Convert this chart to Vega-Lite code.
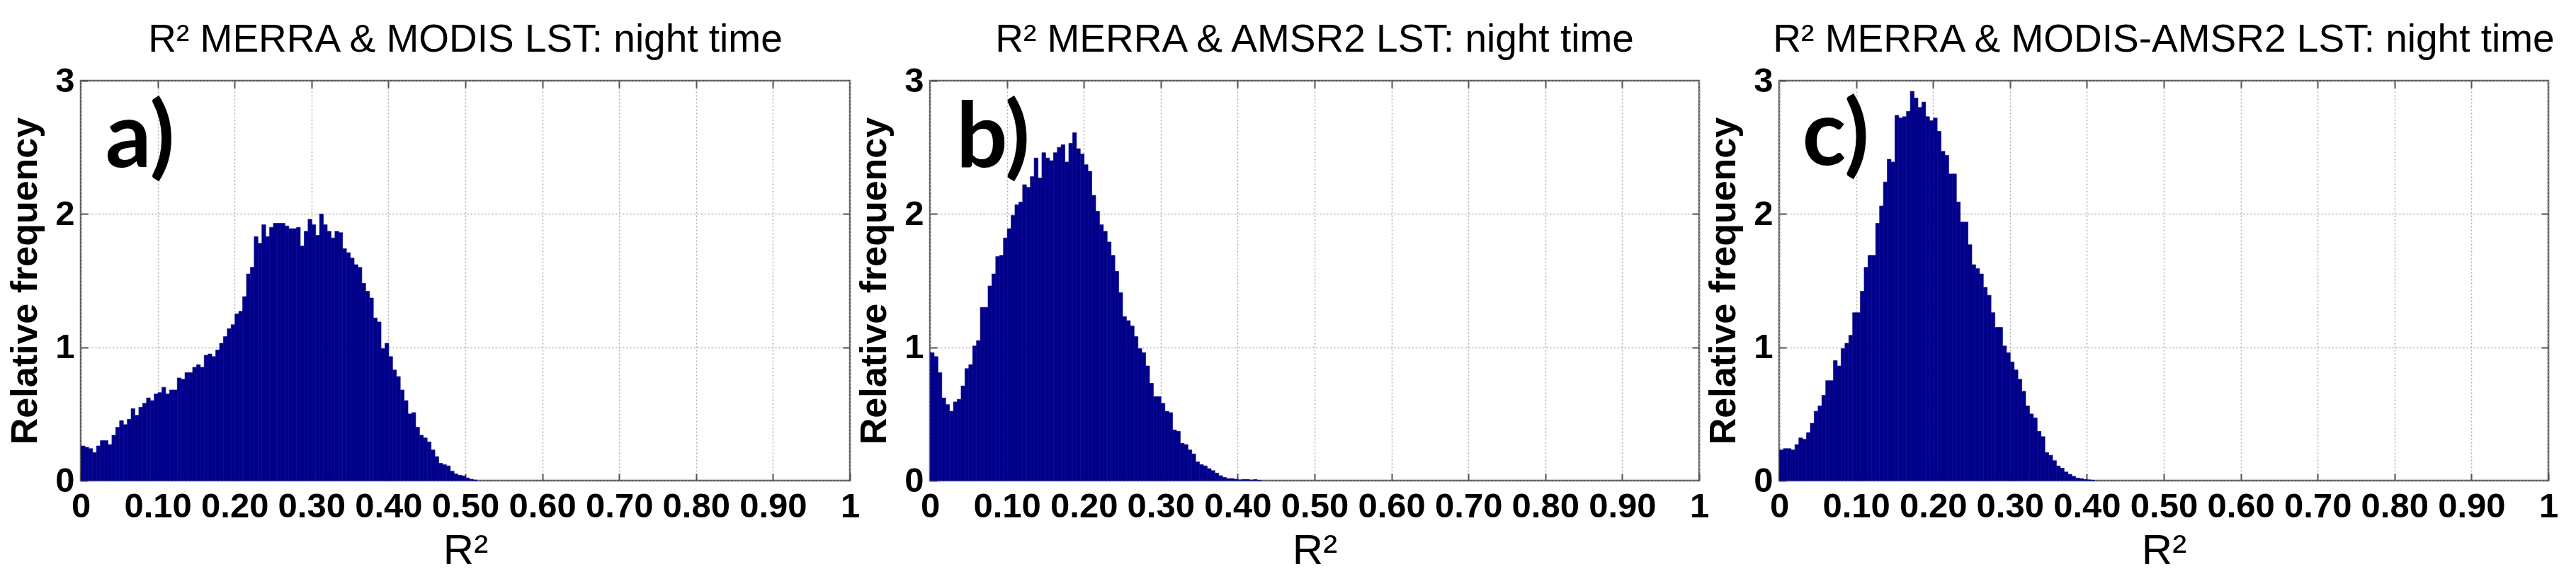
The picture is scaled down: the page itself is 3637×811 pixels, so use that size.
{
  "$schema": "https://vega.github.io/schema/vega-lite/v6.json",
  "padding": {"left": 8, "top": 27, "right": 5, "bottom": 5},
  "background": "white",
  "spacing": 113,
  "bounds": "flush",
  "config": {
    "view": {"stroke": "#5a5a5a", "strokeWidth": 2.5},
    "font": "Liberation Sans",
    "axis": {
      "domain": false,
      "grid": true,
      "gridColor": "#adadad",
      "gridDash": [2, 3],
      "gridWidth": 1.5,
      "ticks": true,
      "tickSize": -10,
      "tickColor": "#555555",
      "tickWidth": 2,
      "labelFlush": false,
      "labelFont": "Liberation Sans",
      "labelFontWeight": "bold",
      "labelFontSize": 49,
      "labelColor": "black",
      "titleColor": "black",
      "titleFont": "Liberation Sans"
    }
  },
  "datasets": {
    "a": [
      {"x0":0.000,"x1":0.005,"f":0.26},{"x0":0.005,"x1":0.010,"f":0.25},{"x0":0.010,"x1":0.015,"f":0.24},{"x0":0.015,"x1":0.020,"f":0.21},{"x0":0.020,"x1":0.025,"f":0.26},
      {"x0":0.025,"x1":0.030,"f":0.30},{"x0":0.030,"x1":0.035,"f":0.30},{"x0":0.035,"x1":0.040,"f":0.27},{"x0":0.040,"x1":0.045,"f":0.34},{"x0":0.045,"x1":0.050,"f":0.40},
      {"x0":0.050,"x1":0.055,"f":0.45},{"x0":0.055,"x1":0.060,"f":0.42},{"x0":0.060,"x1":0.065,"f":0.46},{"x0":0.065,"x1":0.070,"f":0.54},{"x0":0.070,"x1":0.075,"f":0.49},
      {"x0":0.075,"x1":0.080,"f":0.55},{"x0":0.080,"x1":0.085,"f":0.58},{"x0":0.085,"x1":0.090,"f":0.62},{"x0":0.090,"x1":0.095,"f":0.60},{"x0":0.095,"x1":0.100,"f":0.65},
      {"x0":0.100,"x1":0.105,"f":0.66},{"x0":0.105,"x1":0.110,"f":0.70},{"x0":0.110,"x1":0.115,"f":0.65},{"x0":0.115,"x1":0.120,"f":0.68},{"x0":0.120,"x1":0.125,"f":0.68},
      {"x0":0.125,"x1":0.130,"f":0.77},{"x0":0.130,"x1":0.135,"f":0.76},{"x0":0.135,"x1":0.140,"f":0.81},{"x0":0.140,"x1":0.145,"f":0.81},{"x0":0.145,"x1":0.150,"f":0.85},
      {"x0":0.150,"x1":0.155,"f":0.87},{"x0":0.155,"x1":0.160,"f":0.85},{"x0":0.160,"x1":0.165,"f":0.94},{"x0":0.165,"x1":0.170,"f":0.95},{"x0":0.170,"x1":0.175,"f":0.93},
      {"x0":0.175,"x1":0.180,"f":0.98},{"x0":0.180,"x1":0.185,"f":1.03},{"x0":0.185,"x1":0.190,"f":1.08},{"x0":0.190,"x1":0.195,"f":1.14},{"x0":0.195,"x1":0.200,"f":1.17},
      {"x0":0.200,"x1":0.205,"f":1.25},{"x0":0.205,"x1":0.210,"f":1.27},{"x0":0.210,"x1":0.215,"f":1.38},{"x0":0.215,"x1":0.220,"f":1.55},{"x0":0.220,"x1":0.225,"f":1.60},
      {"x0":0.225,"x1":0.230,"f":1.83},{"x0":0.230,"x1":0.235,"f":1.78},{"x0":0.235,"x1":0.240,"f":1.92},{"x0":0.240,"x1":0.245,"f":1.83},{"x0":0.245,"x1":0.250,"f":1.90},
      {"x0":0.250,"x1":0.255,"f":1.93},{"x0":0.255,"x1":0.260,"f":1.93},{"x0":0.260,"x1":0.265,"f":1.93},{"x0":0.265,"x1":0.270,"f":1.91},{"x0":0.270,"x1":0.275,"f":1.89},
      {"x0":0.275,"x1":0.280,"f":1.89},{"x0":0.280,"x1":0.285,"f":1.90},{"x0":0.285,"x1":0.290,"f":1.76},{"x0":0.290,"x1":0.295,"f":1.87},{"x0":0.295,"x1":0.300,"f":1.96},
      {"x0":0.300,"x1":0.305,"f":1.92},{"x0":0.305,"x1":0.310,"f":1.84},{"x0":0.310,"x1":0.315,"f":2.00},{"x0":0.315,"x1":0.320,"f":1.92},{"x0":0.320,"x1":0.325,"f":1.87},
      {"x0":0.325,"x1":0.330,"f":1.82},{"x0":0.330,"x1":0.335,"f":1.87},{"x0":0.335,"x1":0.340,"f":1.86},{"x0":0.340,"x1":0.345,"f":1.74},{"x0":0.345,"x1":0.350,"f":1.71},
      {"x0":0.350,"x1":0.355,"f":1.67},{"x0":0.355,"x1":0.360,"f":1.62},{"x0":0.360,"x1":0.365,"f":1.60},{"x0":0.365,"x1":0.370,"f":1.48},{"x0":0.370,"x1":0.375,"f":1.42},
      {"x0":0.375,"x1":0.380,"f":1.37},{"x0":0.380,"x1":0.385,"f":1.22},{"x0":0.385,"x1":0.390,"f":1.19},{"x0":0.390,"x1":0.395,"f":0.99},{"x0":0.395,"x1":0.400,"f":1.03},
      {"x0":0.400,"x1":0.405,"f":0.93},{"x0":0.405,"x1":0.410,"f":0.83},{"x0":0.410,"x1":0.415,"f":0.78},{"x0":0.415,"x1":0.420,"f":0.68},{"x0":0.420,"x1":0.425,"f":0.60},
      {"x0":0.425,"x1":0.430,"f":0.50},{"x0":0.430,"x1":0.435,"f":0.51},{"x0":0.435,"x1":0.440,"f":0.40},{"x0":0.440,"x1":0.445,"f":0.34},{"x0":0.445,"x1":0.450,"f":0.32},
      {"x0":0.450,"x1":0.455,"f":0.29},{"x0":0.455,"x1":0.460,"f":0.23},{"x0":0.460,"x1":0.465,"f":0.18},{"x0":0.465,"x1":0.470,"f":0.13},{"x0":0.470,"x1":0.475,"f":0.12},
      {"x0":0.475,"x1":0.480,"f":0.11},{"x0":0.480,"x1":0.485,"f":0.07},{"x0":0.485,"x1":0.490,"f":0.05},{"x0":0.490,"x1":0.495,"f":0.04},{"x0":0.495,"x1":0.500,"f":0.035},
      {"x0":0.500,"x1":0.505,"f":0.02},{"x0":0.505,"x1":0.510,"f":0.01},{"x0":0.510,"x1":0.515,"f":0.005}
    ],
    "b": [
      {"x0":0.000,"x1":0.005,"f":0.96},{"x0":0.005,"x1":0.010,"f":0.93},{"x0":0.010,"x1":0.015,"f":0.81},{"x0":0.015,"x1":0.020,"f":0.62},{"x0":0.020,"x1":0.025,"f":0.57},
      {"x0":0.025,"x1":0.030,"f":0.52},{"x0":0.030,"x1":0.035,"f":0.59},{"x0":0.035,"x1":0.040,"f":0.61},{"x0":0.040,"x1":0.045,"f":0.71},{"x0":0.045,"x1":0.050,"f":0.84},
      {"x0":0.050,"x1":0.055,"f":0.87},{"x0":0.055,"x1":0.060,"f":1.01},{"x0":0.060,"x1":0.065,"f":1.05},{"x0":0.065,"x1":0.070,"f":1.30},{"x0":0.070,"x1":0.075,"f":1.30},
      {"x0":0.075,"x1":0.080,"f":1.46},{"x0":0.080,"x1":0.085,"f":1.55},{"x0":0.085,"x1":0.090,"f":1.68},{"x0":0.090,"x1":0.095,"f":1.69},{"x0":0.095,"x1":0.100,"f":1.82},
      {"x0":0.100,"x1":0.105,"f":1.89},{"x0":0.105,"x1":0.110,"f":1.99},{"x0":0.110,"x1":0.115,"f":2.07},{"x0":0.115,"x1":0.120,"f":2.09},{"x0":0.120,"x1":0.125,"f":2.22},
      {"x0":0.125,"x1":0.130,"f":2.20},{"x0":0.130,"x1":0.135,"f":2.28},{"x0":0.135,"x1":0.140,"f":2.42},{"x0":0.140,"x1":0.145,"f":2.27},{"x0":0.145,"x1":0.150,"f":2.46},
      {"x0":0.150,"x1":0.155,"f":2.42},{"x0":0.155,"x1":0.160,"f":2.40},{"x0":0.160,"x1":0.165,"f":2.46},{"x0":0.165,"x1":0.170,"f":2.50},{"x0":0.170,"x1":0.175,"f":2.52},
      {"x0":0.175,"x1":0.180,"f":2.39},{"x0":0.180,"x1":0.185,"f":2.53},{"x0":0.185,"x1":0.190,"f":2.61},{"x0":0.190,"x1":0.195,"f":2.49},{"x0":0.195,"x1":0.200,"f":2.45},
      {"x0":0.200,"x1":0.205,"f":2.37},{"x0":0.205,"x1":0.210,"f":2.32},{"x0":0.210,"x1":0.215,"f":2.14},{"x0":0.215,"x1":0.220,"f":2.02},{"x0":0.220,"x1":0.225,"f":1.92},
      {"x0":0.225,"x1":0.230,"f":1.87},{"x0":0.230,"x1":0.235,"f":1.79},{"x0":0.235,"x1":0.240,"f":1.69},{"x0":0.240,"x1":0.245,"f":1.57},{"x0":0.245,"x1":0.250,"f":1.41},
      {"x0":0.250,"x1":0.255,"f":1.23},{"x0":0.255,"x1":0.260,"f":1.20},{"x0":0.260,"x1":0.265,"f":1.16},{"x0":0.265,"x1":0.270,"f":1.08},{"x0":0.270,"x1":0.275,"f":0.99},
      {"x0":0.275,"x1":0.280,"f":0.96},{"x0":0.280,"x1":0.285,"f":0.86},{"x0":0.285,"x1":0.290,"f":0.73},{"x0":0.290,"x1":0.295,"f":0.63},{"x0":0.295,"x1":0.300,"f":0.63},
      {"x0":0.300,"x1":0.305,"f":0.58},{"x0":0.305,"x1":0.310,"f":0.52},{"x0":0.310,"x1":0.315,"f":0.51},{"x0":0.315,"x1":0.320,"f":0.38},{"x0":0.320,"x1":0.325,"f":0.37},
      {"x0":0.325,"x1":0.330,"f":0.28},{"x0":0.330,"x1":0.335,"f":0.27},{"x0":0.335,"x1":0.340,"f":0.23},{"x0":0.340,"x1":0.345,"f":0.20},{"x0":0.345,"x1":0.350,"f":0.14},
      {"x0":0.350,"x1":0.355,"f":0.12},{"x0":0.355,"x1":0.360,"f":0.11},{"x0":0.360,"x1":0.365,"f":0.09},{"x0":0.365,"x1":0.370,"f":0.075},{"x0":0.370,"x1":0.375,"f":0.056},
      {"x0":0.375,"x1":0.380,"f":0.037},{"x0":0.380,"x1":0.385,"f":0.024},{"x0":0.385,"x1":0.390,"f":0.015},{"x0":0.390,"x1":0.395,"f":0.015},{"x0":0.395,"x1":0.400,"f":0.01},
      {"x0":0.400,"x1":0.405,"f":0.006},{"x0":0.405,"x1":0.410,"f":0.009},{"x0":0.410,"x1":0.415,"f":0.009},{"x0":0.415,"x1":0.420,"f":0.005},{"x0":0.420,"x1":0.425,"f":0.008},
      {"x0":0.425,"x1":0.430,"f":0.002}
    ],
    "c": [
      {"x0":0.000,"x1":0.005,"f":0.23},{"x0":0.005,"x1":0.010,"f":0.24},{"x0":0.010,"x1":0.015,"f":0.24},{"x0":0.015,"x1":0.020,"f":0.23},{"x0":0.020,"x1":0.025,"f":0.27},
      {"x0":0.025,"x1":0.030,"f":0.32},{"x0":0.030,"x1":0.035,"f":0.31},{"x0":0.035,"x1":0.040,"f":0.36},{"x0":0.040,"x1":0.045,"f":0.43},{"x0":0.045,"x1":0.050,"f":0.52},
      {"x0":0.050,"x1":0.055,"f":0.56},{"x0":0.055,"x1":0.060,"f":0.64},{"x0":0.060,"x1":0.065,"f":0.75},{"x0":0.065,"x1":0.070,"f":0.75},{"x0":0.070,"x1":0.075,"f":0.90},
      {"x0":0.075,"x1":0.080,"f":0.86},{"x0":0.080,"x1":0.085,"f":0.99},{"x0":0.085,"x1":0.090,"f":1.03},{"x0":0.090,"x1":0.095,"f":1.09},{"x0":0.095,"x1":0.100,"f":1.26},
      {"x0":0.100,"x1":0.105,"f":1.26},{"x0":0.105,"x1":0.110,"f":1.42},{"x0":0.110,"x1":0.115,"f":1.60},{"x0":0.115,"x1":0.120,"f":1.69},{"x0":0.120,"x1":0.125,"f":1.69},
      {"x0":0.125,"x1":0.130,"f":1.93},{"x0":0.130,"x1":0.135,"f":2.06},{"x0":0.135,"x1":0.140,"f":2.24},{"x0":0.140,"x1":0.145,"f":2.41},{"x0":0.145,"x1":0.150,"f":2.39},
      {"x0":0.150,"x1":0.155,"f":2.74},{"x0":0.155,"x1":0.160,"f":2.72},{"x0":0.160,"x1":0.165,"f":2.73},{"x0":0.165,"x1":0.170,"f":2.77},{"x0":0.170,"x1":0.175,"f":2.92},
      {"x0":0.175,"x1":0.180,"f":2.87},{"x0":0.180,"x1":0.185,"f":2.80},{"x0":0.185,"x1":0.190,"f":2.84},{"x0":0.190,"x1":0.195,"f":2.73},{"x0":0.195,"x1":0.200,"f":2.70},
      {"x0":0.200,"x1":0.205,"f":2.72},{"x0":0.205,"x1":0.210,"f":2.62},{"x0":0.210,"x1":0.215,"f":2.47},{"x0":0.215,"x1":0.220,"f":2.44},{"x0":0.220,"x1":0.225,"f":2.30},
      {"x0":0.225,"x1":0.230,"f":2.30},{"x0":0.230,"x1":0.235,"f":2.09},{"x0":0.235,"x1":0.240,"f":1.94},{"x0":0.240,"x1":0.245,"f":1.94},{"x0":0.245,"x1":0.250,"f":1.77},
      {"x0":0.250,"x1":0.255,"f":1.62},{"x0":0.255,"x1":0.260,"f":1.59},{"x0":0.260,"x1":0.265,"f":1.55},{"x0":0.265,"x1":0.270,"f":1.45},{"x0":0.270,"x1":0.275,"f":1.39},
      {"x0":0.275,"x1":0.280,"f":1.26},{"x0":0.280,"x1":0.285,"f":1.15},{"x0":0.285,"x1":0.290,"f":1.15},{"x0":0.290,"x1":0.295,"f":1.01},{"x0":0.295,"x1":0.300,"f":0.96},
      {"x0":0.300,"x1":0.305,"f":0.89},{"x0":0.305,"x1":0.310,"f":0.83},{"x0":0.310,"x1":0.315,"f":0.76},{"x0":0.315,"x1":0.320,"f":0.67},{"x0":0.320,"x1":0.325,"f":0.56},
      {"x0":0.325,"x1":0.330,"f":0.50},{"x0":0.330,"x1":0.335,"f":0.47},{"x0":0.335,"x1":0.340,"f":0.37},{"x0":0.340,"x1":0.345,"f":0.33},{"x0":0.345,"x1":0.350,"f":0.21},
      {"x0":0.350,"x1":0.355,"f":0.19},{"x0":0.355,"x1":0.360,"f":0.15},{"x0":0.360,"x1":0.365,"f":0.11},{"x0":0.365,"x1":0.370,"f":0.093},{"x0":0.370,"x1":0.375,"f":0.065},
      {"x0":0.375,"x1":0.380,"f":0.047},{"x0":0.380,"x1":0.385,"f":0.032},{"x0":0.385,"x1":0.390,"f":0.019},{"x0":0.390,"x1":0.395,"f":0.015},{"x0":0.395,"x1":0.400,"f":0.009},
      {"x0":0.400,"x1":0.405,"f":0.006},{"x0":0.405,"x1":0.410,"f":0.003}
    ]
  },
  "hconcat": [
    {
      "width": 1086, "height": 565,
      "title": {"text": "R² MERRA & MODIS LST: night time", "fontSize": 55, "fontWeight": "normal", "font": "Liberation Sans", "frame": "group", "anchor": "middle", "baseline": "alphabetic", "offset": -38, "color": "black"},
      "layer": [
        {
          "data": {"name": "a"},
          "mark": {"type": "bar", "binSpacing": 0, "color": "#00008B", "stroke": "#00008B", "strokeWidth": 0.6},
          "encoding": {
            "x": {"field": "x0", "type": "quantitative", "bin": {"binned": true}, "scale": {"domain": [0, 1], "nice": false},
                  "axis": {"values": [0,0.1,0.2,0.3,0.4,0.5,0.6,0.7,0.8,0.9,1], "labelExpr": "datum.value == 0 || datum.value == 1 ? format(datum.value, 'd') : format(datum.value, '.2f')", "labelFontSize": 49, "labelFlush": false, "labelPadding": 22, "title": "R²", "titleFontSize": 60, "titleFontWeight": "normal", "titlePadding": 9}},
            "x2": {"field": "x1"},
            "y": {"field": "f", "type": "quantitative", "scale": {"domain": [0, 3], "nice": false},
                  "axis": {"values": [0,1,2,3], "labelFontSize": 49, "labelPadding": 19, "title": "Relative frequency", "titleFontSize": 52, "titleFontWeight": "bold", "titlePadding": 15}}
          }
        },
        {
          "data": {"values": [{"lab": "a)", "px": 0.032, "py": 2.35}]},
          "mark": {"type": "text", "font": "Lato", "fontWeight": "bold", "fontSize": 128, "align": "left", "baseline": "alphabetic", "color": "black"},
          "encoding": {
            "x": {"field": "px", "type": "quantitative", "axis": {"orient": "top", "values": [0.1,0.2,0.3,0.4,0.5,0.6,0.7,0.8,0.9], "labels": false, "grid": false, "title": null}},
            "y": {"field": "py", "type": "quantitative", "axis": {"orient": "right", "values": [1,2], "labels": false, "grid": false, "title": null}},
            "text": {"field": "lab"}
          }
        }
      ],
      "resolve": {"axis": {"x": "independent", "y": "independent"}}
    },
    {
      "width": 1086, "height": 565,
      "title": {"text": "R² MERRA & AMSR2 LST: night time", "fontSize": 55, "fontWeight": "normal", "font": "Liberation Sans", "frame": "group", "anchor": "middle", "baseline": "alphabetic", "offset": -38, "color": "black"},
      "layer": [
        {
          "data": {"name": "b"},
          "mark": {"type": "bar", "binSpacing": 0, "color": "#00008B", "stroke": "#00008B", "strokeWidth": 0.6},
          "encoding": {
            "x": {"field": "x0", "type": "quantitative", "bin": {"binned": true}, "scale": {"domain": [0, 1], "nice": false},
                  "axis": {"values": [0,0.1,0.2,0.3,0.4,0.5,0.6,0.7,0.8,0.9,1], "labelExpr": "datum.value == 0 || datum.value == 1 ? format(datum.value, 'd') : format(datum.value, '.2f')", "labelFontSize": 49, "labelFlush": false, "labelPadding": 22, "title": "R²", "titleFontSize": 60, "titleFontWeight": "normal", "titlePadding": 9}},
            "x2": {"field": "x1"},
            "y": {"field": "f", "type": "quantitative", "scale": {"domain": [0, 3], "nice": false},
                  "axis": {"values": [0,1,2,3], "labelFontSize": 49, "labelPadding": 19, "title": "Relative frequency", "titleFontSize": 52, "titleFontWeight": "bold", "titlePadding": 15}}
          }
        },
        {
          "data": {"values": [{"lab": "b)", "px": 0.034, "py": 2.35}]},
          "mark": {"type": "text", "font": "Lato", "fontWeight": "bold", "fontSize": 128, "align": "left", "baseline": "alphabetic", "color": "black"},
          "encoding": {
            "x": {"field": "px", "type": "quantitative", "axis": {"orient": "top", "values": [0.1,0.2,0.3,0.4,0.5,0.6,0.7,0.8,0.9], "labels": false, "grid": false, "title": null}},
            "y": {"field": "py", "type": "quantitative", "axis": {"orient": "right", "values": [1,2], "labels": false, "grid": false, "title": null}},
            "text": {"field": "lab"}
          }
        }
      ],
      "resolve": {"axis": {"x": "independent", "y": "independent"}}
    },
    {
      "width": 1086, "height": 565,
      "title": {"text": "R² MERRA & MODIS-AMSR2 LST: night time", "fontSize": 55, "fontWeight": "normal", "font": "Liberation Sans", "frame": "group", "anchor": "middle", "baseline": "alphabetic", "offset": -38, "color": "black"},
      "layer": [
        {
          "data": {"name": "c"},
          "mark": {"type": "bar", "binSpacing": 0, "color": "#00008B", "stroke": "#00008B", "strokeWidth": 0.6},
          "encoding": {
            "x": {"field": "x0", "type": "quantitative", "bin": {"binned": true}, "scale": {"domain": [0, 1], "nice": false},
                  "axis": {"values": [0,0.1,0.2,0.3,0.4,0.5,0.6,0.7,0.8,0.9,1], "labelExpr": "datum.value == 0 || datum.value == 1 ? format(datum.value, 'd') : format(datum.value, '.2f')", "labelFontSize": 49, "labelFlush": false, "labelPadding": 22, "title": "R²", "titleFontSize": 60, "titleFontWeight": "normal", "titlePadding": 9}},
            "x2": {"field": "x1"},
            "y": {"field": "f", "type": "quantitative", "scale": {"domain": [0, 3], "nice": false},
                  "axis": {"values": [0,1,2,3], "labelFontSize": 49, "labelPadding": 19, "title": "Relative frequency", "titleFontSize": 52, "titleFontWeight": "bold", "titlePadding": 15}}
          }
        },
        {
          "data": {"values": [{"lab": "c)", "px": 0.030, "py": 2.37}]},
          "mark": {"type": "text", "font": "Lato", "fontWeight": "bold", "fontSize": 128, "align": "left", "baseline": "alphabetic", "color": "black"},
          "encoding": {
            "x": {"field": "px", "type": "quantitative", "axis": {"orient": "top", "values": [0.1,0.2,0.3,0.4,0.5,0.6,0.7,0.8,0.9], "labels": false, "grid": false, "title": null}},
            "y": {"field": "py", "type": "quantitative", "axis": {"orient": "right", "values": [1,2], "labels": false, "grid": false, "title": null}},
            "text": {"field": "lab"}
          }
        }
      ],
      "resolve": {"axis": {"x": "independent", "y": "independent"}}
    }
  ]
}
